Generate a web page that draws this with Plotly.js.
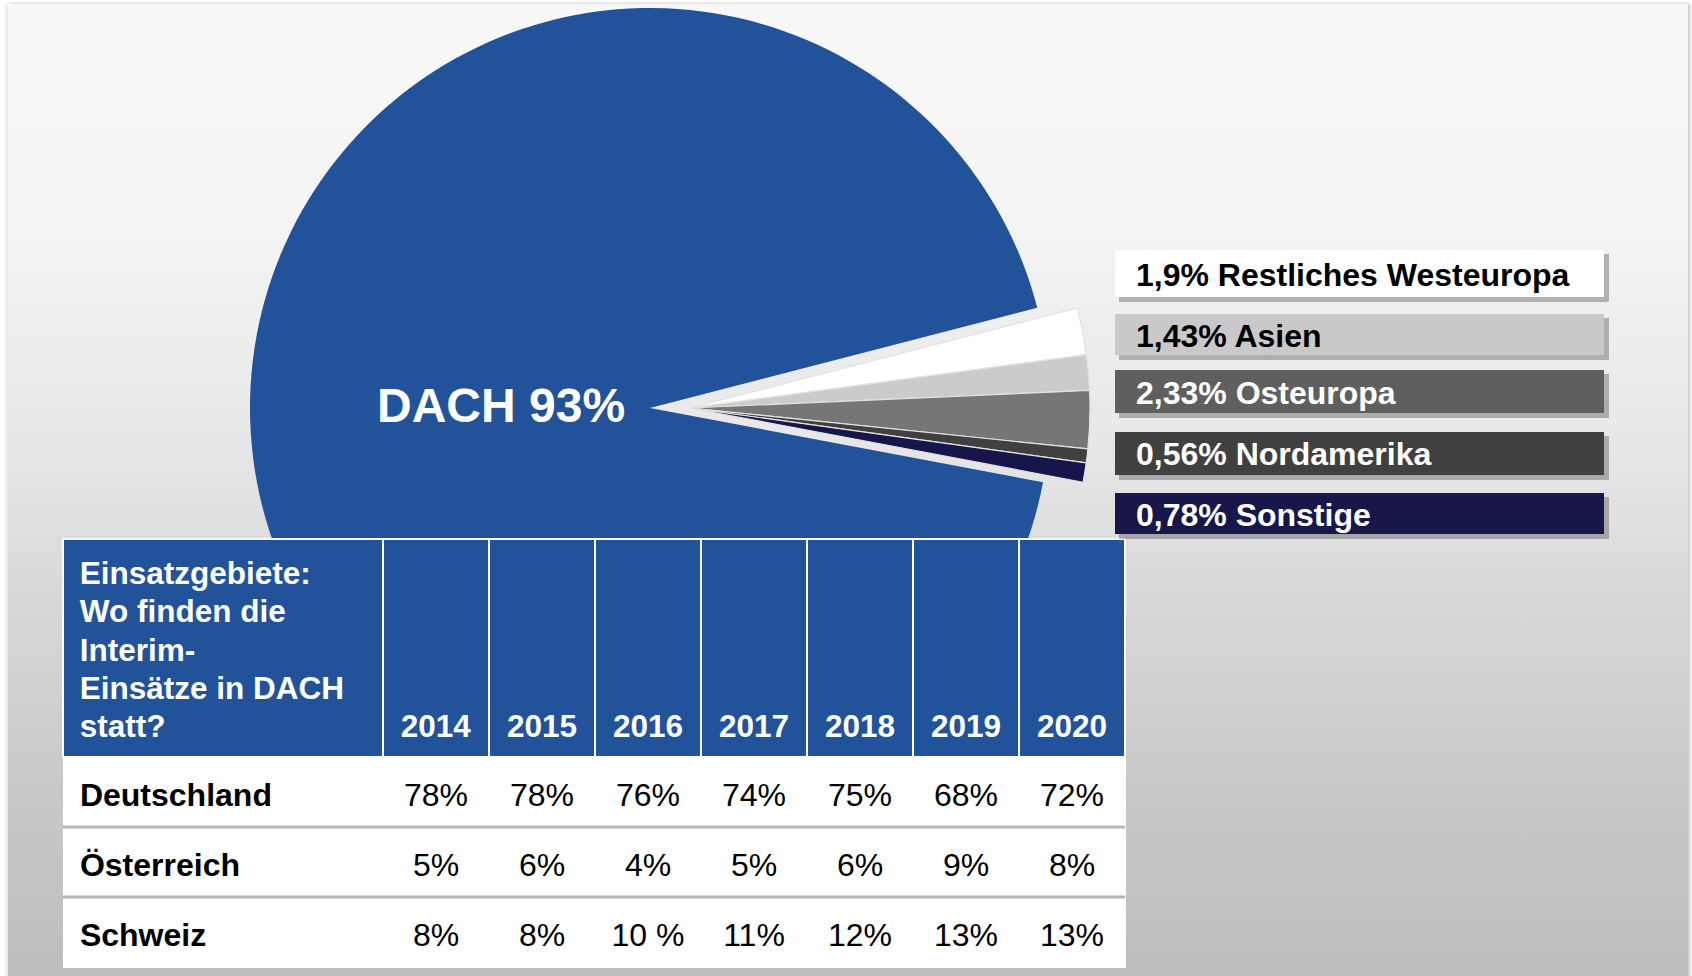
<!DOCTYPE html>
<html>
<head>
<meta charset="utf-8">
<script src="https://cdn.plot.ly/plotly-3.0.1.min.js"></script>
<style>
html,body{margin:0;padding:0;background:#ffffff;}
#wrap{position:relative;width:1692px;height:976px;overflow:hidden;background:#ffffff;}
#panel{position:absolute;left:8px;top:4px;width:1680px;height:990px;
  background:linear-gradient(to bottom,#f8f8f8 0%,#f4f4f4 22%,#e9e9e9 42%,#d8d8d8 60%,#c8c8c8 80%,#bcbcbc 100%);
  box-shadow:-2px 0 4px rgba(0,0,0,0.10), 2px 0 3px rgba(0,0,0,0.22);}
#chart{position:absolute;left:0;top:0;width:1692px;height:976px;}
</style>
</head>
<body>
<div id="wrap"><div id="panel"></div><div id="chart"></div></div>
<script>
// ---- Pie data ----
const regions = ['Restliches Westeuropa', 'Asien', 'Osteuropa', 'Nordamerika', 'Sonstige', 'DACH'];
const shares  = [1.9, 1.43, 2.33, 0.56, 0.78, 93];
const sliceColors = ['#ffffff', '#cbcbcb', '#767676', '#404040', '#16164a', '#22539a'];
const boxColors   = ['#ffffff', '#c9c9c9', '#5f5f5f', '#404040', '#17174a'];
const boxText     = ['#000000', '#000000', '#ffffff', '#ffffff', '#ffffff'];

// ---- Table data ----
const headerTitle = ['Einsatzgebiete:', 'Wo finden die', 'Interim-', 'Einsätze in DACH', 'statt?'];
const years = ['2014', '2015', '2016', '2017', '2018', '2019', '2020'];
const countries = ['Deutschland', 'Österreich', 'Schweiz'];
const deutschland = ['78%', '78%', '76%', '74%', '75%', '68%', '72%'];
const oesterreich = ['5%', '6%', '4%', '5%', '6%', '9%', '8%'];
const schweiz     = ['8%', '8%', '10 %', '11%', '12%', '13%', '13%'];

const W = 1692, H = 976;
const px = p => p / W;
const py = p => 1 - p / H;
const FONT = 'Liberation Sans, Arial, Helvetica, sans-serif';
const fmt = v => String(v).replace('.', ',');
const NB = '\u00a0';
const BLUE = '#22539a';

// pie geometry (pixels)
const cx = 650, cy = 408, R = 400, pullPx = 40;
const dom1 = {x: [px(cx - R), px(cx + R)], y: [py(cy + R), py(cy - R)]};
const dom2 = {x: [px(cx - R + pullPx), px(cx + R + pullPx)], y: dom1.y};

const nSmall = shares.length - 1;
const transparent = 'rgba(0,0,0,0)';

const pieMain = {
  type: 'pie', labels: regions, values: shares, sort: false,
  direction: 'clockwise', rotation: 75.5,
  marker: {colors: shares.map((v, i) => i === nSmall ? sliceColors[i] : transparent),
           line: {width: 0}},
  textinfo: 'none', hoverinfo: 'none', domain: dom1, showlegend: false
};
const pieSmall = {
  type: 'pie', labels: regions, values: shares, sort: false,
  direction: 'clockwise', rotation: 75.5,
  marker: {colors: shares.map((v, i) => i === nSmall ? transparent : sliceColors[i]),
           line: {color: '#e2e2e2', width: shares.map((v, i) => i === nSmall ? 0 : 1.2)}},
  textinfo: 'none', hoverinfo: 'none', domain: dom2, showlegend: false
};

// header line (31.5px text on a 29.5px line grid)
const hl = t => '<span style="font-size:31.5px">' + t + '</span>';
// body cell text: small spacer line, then the 32px value line
const bodyCell = (t, bold) => NB + '<br><span style="font-size:32px' + (bold ? ';font-weight:bold' : '') + '">' + t + '</span>';

// table geometry
const tLeft = 63, tRight = 1125, tTop = 539, headShift = 8, headH = 218, rowH = 70;
const colW = [320].concat(years.map(() => 106));
const table = {
  type: 'table',
  domain: {x: [px(tLeft), px(tRight)], y: [0, py(tTop + headShift)]},
  columnwidth: colW,
  header: {
    values: [headerTitle.map(l => hl(NB + l)).join('<br>')]
      .concat(years.map(y => [NB, NB, NB, NB].map(hl).join('<br>') + '<br>' + hl(y))),
    align: ['left'].concat(years.map(() => 'center')),
    fill: {color: BLUE},
    line: {color: '#ffffff', width: 2},
    font: {family: FONT, size: 29.5, color: '#ffffff', weight: 'bold'},
    height: headH - headShift
  },
  cells: {
    values: [countries.map(c => bodyCell(NB + c, true))]
      .concat(years.map((y, i) => [deutschland[i], oesterreich[i], schweiz[i]].map(v => bodyCell(v, false)))),
    align: ['left'].concat(years.map(() => 'center')),
    fill: {color: '#ffffff'},
    line: {color: '#ffffff', width: 1},
    font: {family: FONT, size: 18.5, color: '#000000'},
    height: rowH
  }
};

const shapes = [];
const annotations = [];

// top strip of the header (header text sits lower in the reference)
shapes.push({type: 'rect', xref: 'paper', yref: 'paper', layer: 'above',
  x0: px(tLeft), x1: px(tRight), y0: py(tTop + headShift + 2), y1: py(tTop),
  fillcolor: BLUE, line: {width: 0}});
shapes.push({type: 'line', xref: 'paper', yref: 'paper', layer: 'above',
  x0: px(tLeft), x1: px(tRight), y0: py(tTop), y1: py(tTop), line: {color: '#ffffff', width: 2}});
let xc = tLeft;
for (let k = 0; k <= colW.length; k++) {
  shapes.push({type: 'line', xref: 'paper', yref: 'paper', layer: 'above',
    x0: px(xc), x1: px(xc), y0: py(tTop + headShift + 2), y1: py(tTop),
    line: {color: '#ffffff', width: 2}});
  if (k < colW.length) xc += colW[k];
}

// table row separators
for (let k = 1; k < countries.length; k++) {
  const yy = tTop + headH + k * rowH;
  shapes.push({type: 'line', xref: 'paper', yref: 'paper', layer: 'above',
    x0: px(tLeft), x1: px(tRight), y0: py(yy), y1: py(yy),
    line: {color: '#b6b6b6', width: 3}});
}

// label boxes
const boxX0 = 1115, boxX1 = 1604;
const boxTops = [250, 314, 370, 432, 493];
const boxHs   = [47, 41, 43, 43, 41];
for (let i = 0; i < nSmall; i++) {
  const t = boxTops[i], bh = boxHs[i];
  shapes.push({type: 'rect', xref: 'paper', yref: 'paper', layer: 'above',
    x0: px(boxX0 + 4), x1: px(boxX1 + 5), y0: py(t + bh + 5), y1: py(t + 4),
    fillcolor: 'rgba(60,60,60,0.35)', line: {width: 0}});
  shapes.push({type: 'rect', xref: 'paper', yref: 'paper', layer: 'above',
    x0: px(boxX0), x1: px(boxX1), y0: py(t + bh), y1: py(t),
    fillcolor: boxColors[i], line: {width: 0}});
  annotations.push({xref: 'paper', yref: 'paper', x: px(1134), y: py(t + bh / 2 + 1),
    xanchor: 'left', yanchor: 'middle', showarrow: false,
    text: '<b>' + fmt(shares[i]) + '% ' + regions[i] + '</b>',
    font: {family: FONT, size: 32, color: boxText[i]}});
}

// DACH label
annotations.push({xref: 'paper', yref: 'paper', x: px(501), y: py(406),
  xanchor: 'center', yanchor: 'middle', showarrow: false,
  text: '<b>' + regions[nSmall] + ' ' + fmt(shares[nSmall]) + '%</b>',
  font: {family: FONT, size: 48, color: '#ffffff'}});

const layout = {
  width: W, height: H,
  margin: {l: 0, r: 0, t: 0, b: 0, pad: 0},
  paper_bgcolor: 'rgba(0,0,0,0)', plot_bgcolor: 'rgba(0,0,0,0)',
  showlegend: false,
  shapes: shapes, annotations: annotations
};

Plotly.newPlot('chart', [pieMain, pieSmall, table], layout, {staticPlot: true, displayModeBar: false});
</script>
</body>
</html>
